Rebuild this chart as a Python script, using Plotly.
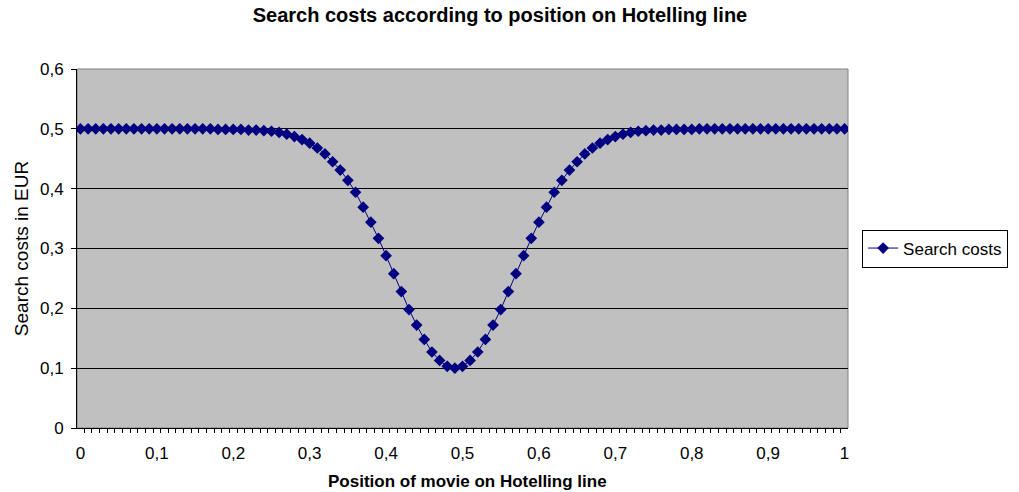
import plotly.graph_objects as go

positions = [round(i * 0.01, 2) for i in range(101)]
search_costs = [
    0.500, 0.500, 0.500, 0.500, 0.500, 0.500, 0.500, 0.500, 0.500, 0.500,
    0.500, 0.500, 0.500, 0.500, 0.500, 0.500, 0.500, 0.500, 0.499, 0.499,
    0.499, 0.499, 0.498, 0.498, 0.497, 0.496, 0.494, 0.491, 0.487, 0.482,
    0.476, 0.468, 0.458, 0.445, 0.431, 0.414, 0.394, 0.369, 0.344, 0.317,
    0.288, 0.258, 0.228, 0.198, 0.172, 0.148, 0.127, 0.113, 0.103, 0.100,
    0.103, 0.113, 0.127, 0.148, 0.172, 0.198, 0.228, 0.258, 0.288, 0.317,
    0.344, 0.369, 0.394, 0.414, 0.431, 0.445, 0.458, 0.468, 0.476, 0.482,
    0.487, 0.491, 0.494, 0.496, 0.497, 0.498, 0.498, 0.499, 0.499, 0.499,
    0.499, 0.500, 0.500, 0.500, 0.500, 0.500, 0.500, 0.500, 0.500, 0.500,
    0.500, 0.500, 0.500, 0.500, 0.500, 0.500, 0.500, 0.500, 0.500, 0.500,
    0.500,
]
x_tick_vals = [0, 0.1, 0.2, 0.3, 0.4, 0.5, 0.6, 0.7, 0.8, 0.9, 1]
y_tick_vals = [0, 0.1, 0.2, 0.3, 0.4, 0.5, 0.6]

FONT = "Liberation Sans, Arial, sans-serif"

fig = go.Figure()
fig.add_trace(go.Scatter(
    x=positions, y=search_costs, mode="lines+markers", name="Search costs",
    line=dict(color="#000080", width=1),
    marker=dict(symbol="diamond", size=9, color="#000080"),
))

fig.update_layout(
    width=1019, height=492,
    margin=dict(l=77, r=170, t=69, b=64),
    paper_bgcolor="white", plot_bgcolor="#C0C0C0",
    separators=", ",
    font=dict(family=FONT, size=17, color="black"),
    title=dict(text="<b>Search costs according to position on Hotelling line</b>",
               x=500 / 1019, xanchor="center", y=1 - 15 / 492, yanchor="middle",
               font=dict(size=20, family=FONT, color="black")),
    showlegend=True,
    legend=dict(x=1.017, xanchor="left", y=0.5, yanchor="middle",
                bordercolor="black", borderwidth=1, bgcolor="white",
                font=dict(size=17, family=FONT)),
    xaxis=dict(
        range=[-0.0045, 1.0045], tickmode="array", tickvals=x_tick_vals,
        ticks="", showgrid=False, zeroline=False, automargin=False,
        showline=True, linecolor="black", linewidth=1, mirror=False,
        tickfont=dict(size=17), ticklabelstandoff=10,
        minor=dict(tickmode="linear", tick0=0.005, dtick=0.01, ticks="outside",
                   ticklen=4, tickcolor="black", showgrid=False),
    ),
    yaxis=dict(
        range=[0, 0.6], tickmode="array", tickvals=y_tick_vals,
        ticks="outside", ticklen=5, tickcolor="black",
        showgrid=True, gridcolor="black", gridwidth=1, zeroline=False,
        showline=True, linecolor="black", linewidth=1,
        tickfont=dict(size=17), ticklabelstandoff=4,
        title=dict(text="Search costs in EUR", font=dict(size=19), standoff=6),
    ),
    annotations=[dict(
        text="<b>Position of movie on Hotelling line</b>",
        xref="paper", yref="paper", x=(468 - 77) / 772, y=-(481 - 428) / 359,
        xanchor="center", yanchor="middle", showarrow=False,
        font=dict(size=17, family=FONT, color="black"),
    )],
)

# gray border on top/right of plot area
fig.add_shape(type="rect", xref="paper", yref="paper", x0=0, y0=0, x1=1, y1=1,
              line=dict(color="#808080", width=1), layer="below")

fig.write_html("out.html", config={"displayModeBar": False},
               post_script="document.body.style.margin='0';")
